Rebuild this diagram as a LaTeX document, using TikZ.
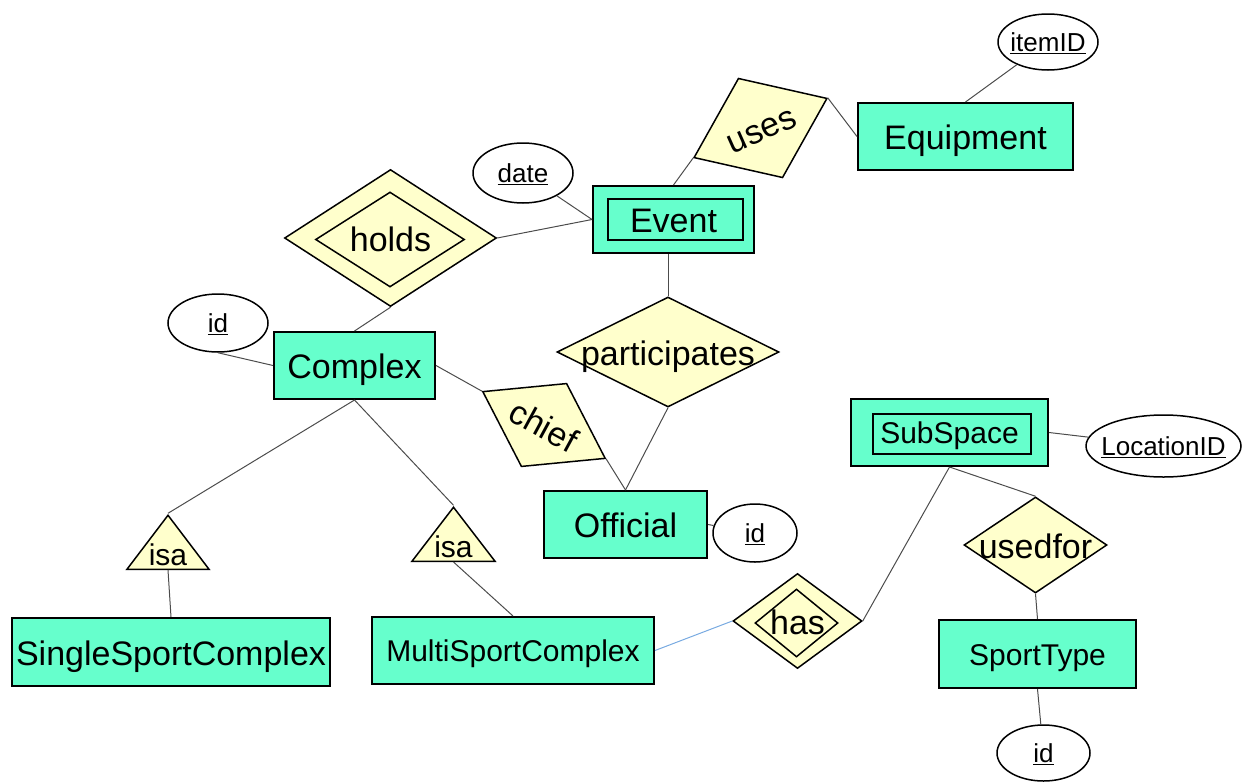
\documentclass[tikz,border=0pt]{standalone}
\usepackage{fontspec}
\setmainfont{Liberation Sans}
\usetikzlibrary{shapes.geometric}
\definecolor{entfill}{RGB}{102,255,204}
\definecolor{relfill}{RGB}{255,255,204}
\definecolor{linkblue}{RGB}{120,170,225}
\newcommand{\nw}[1]{\makebox[0pt]{#1}}

\begin{document}
\begin{tikzpicture}[x=1pt,y=-1pt,
  big/.style={font=\fontsize{34}{40}\selectfont,text height=26pt,text depth=0pt},
  mid/.style={font=\fontsize{30}{36}\selectfont,text height=22pt,text depth=0pt},
  small/.style={font=\fontsize{26}{30}\selectfont,text height=19pt,text depth=0pt},
  entity/.style={draw,line width=2pt,fill=entfill,inner sep=0pt,minimum height=67pt},
  inbox/.style={draw,line width=1.5pt,inner sep=0pt},
  rel/.style={diamond,draw,line width=1.5pt,fill=relfill,inner sep=0pt,big},
  attr/.style={ellipse,draw,line width=1.5pt,fill=white,inner sep=0pt,small},
  isa/.style={isosceles triangle,isosceles triangle stretches,shape border rotate=90,
    draw,line width=1.5pt,fill=relfill,inner sep=0pt,anchor=lower side,
    font=\fontsize{30}{36}\selectfont,text height=1pt,text depth=0pt},
  link/.style={draw=black!70,line width=1pt}]
  \useasboundingbox (0,0) rectangle (1242,782);
  % entities
  \node[entity,big,minimum width=215pt] (eq) at (965.5,136.5) {Equipment};
  \node[entity,big,minimum width=161pt] (ev) at (673.5,219.5) {Event};
  \node[inbox,minimum width=135pt,minimum height=41pt] (evin) at (675.5,219.5) {};
  \node[entity,big,minimum width=161pt] (cx) at (354.5,365.5) {Complex};
  \node[entity,big,minimum width=163pt] (off) at (625.5,524.5) {Official};
  \node[entity,mid,minimum width=197pt] (sub) at (949.5,432.5) {SubSpace};
  \node[inbox,minimum width=158pt,minimum height=40pt] (subin) at (952,434) {};
  \node[entity,big,minimum width=318pt,minimum height=68pt] (ssc) at (171,652) {SingleSportComplex};
  \node[entity,mid,minimum width=282pt] (msc) at (513,650.5) {MultiSportComplex};
  \node[entity,mid,minimum width=197pt,minimum height=68pt] (st) at (1037.5,654) {SportType};
  % relationships
  \node[rel,minimum width=212pt,minimum height=137pt] (holds) at (390.5,238) {\nw{holds}};
  \node[inbox,diamond,minimum width=149pt,minimum height=95pt] (holdsin) at (390,239.5) {};
  \node[rel,rotate=24,minimum width=146pt,minimum height=109pt] (uses) at (760.5,128) {\nw{uses}};
  \node[rel,minimum width=222pt,minimum height=110pt] (pa) at (668,352) {\nw{participates}};
  \node[rel,rotate=-28.6,minimum width=140pt,minimum height=95pt] (chief) at (544,425) {\nw{chief}};
  \node[rel,minimum width=143pt,minimum height=96pt] (uf) at (1035.5,545) {\nw{usedfor}};
  \node[rel,minimum width=129pt,minimum height=95pt] (has) at (797.5,621) {\nw{has}};
  \node[inbox,diamond,minimum width=83pt,minimum height=68pt] (hasin) at (796.5,623) {};
  % attributes
  \node[attr,minimum width=100pt,minimum height=56pt] (itemid) at (1048,42) {\nw{\underline{itemID}}};
  \node[attr,minimum width=100pt,minimum height=60pt] (date) at (523,173) {\nw{\underline{date}}};
  \node[attr,minimum width=100pt,minimum height=58pt] (cid) at (218,323) {\nw{\underline{id}}};
  \node[attr,minimum width=84pt,minimum height=58pt] (oid) at (755,533) {\nw{\underline{id}}};
  \node[attr,minimum width=155pt,minimum height=62pt] (locid) at (1163.5,446) {\nw{\underline{LocationID}}};
  \node[attr,minimum width=93pt,minimum height=56pt] (sid) at (1043.5,753) {\nw{\underline{id}}};
  % isa triangles
  \node[isa,minimum width=82pt,minimum height=54pt] (isa1) at (168,570) {\nw{\raisebox{-16pt}{isa}}};
  \node[isa,minimum width=83pt,minimum height=54pt] (isa2) at (453.5,562) {\nw{\raisebox{-16pt}{isa}}};
  % connectors
  \draw[link] (itemid) -- (eq.north);
  \draw[link] (uses.east) -- (eq.west);
  \draw[link] (ev.north) -- (uses.west);
  \draw[link] (date) -- (ev.west);
  \draw[link] (holds.east) -- (ev.west);
  \draw[link] (holds.south) -- (cx.north);
  \draw[link] (cid.south) -- (cx.west);
  \draw[link] (cx.east) -- (chief.west);
  \draw[link] (chief.east) -- (off.north);
  \draw[link] (pa.south) -- (off.north);
  \draw[link] (pa.north) -- (pa.north |- ev.south);
  \draw[link] (off.east) -- (oid);
  \draw[link] (cx.south) -- (isa1.apex);
  \draw[link] (cx.south) -- (isa2.apex);
  \draw[link] (isa1.lower side) -- (ssc.north);
  \draw[link] (isa2.lower side) -- (msc.north);
  \draw[linkblue,line width=1pt] (has.west) -- (msc.east);
  \draw[link] (has.east) -- (sub.south);
  \draw[link] (sub.south) -- (uf.north);
  \draw[link] (sub.east) -- (locid);
  \draw[link] (uf.south) -- (st.north);
  \draw[link] (st.south) -- (sid);
\end{tikzpicture}
\end{document}
